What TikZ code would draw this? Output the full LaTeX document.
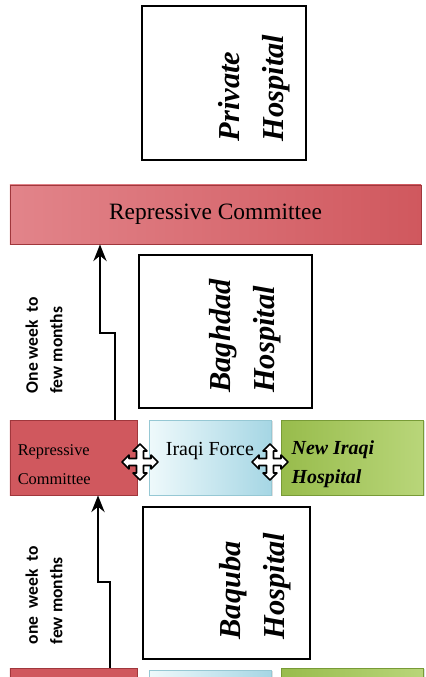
\documentclass[tikz,border=0pt]{standalone}
\usepackage{fontspec}
\setmainfont{Liberation Serif}
\newfontfamily\labelfont{Carlito}
\usetikzlibrary{arrows.meta, positioning, calc, shadows}
\definecolor{redlight}{RGB}{226,132,138}
\definecolor{reddark}{RGB}{208,88,94}
\definecolor{redmid}{RGB}{198,72,78}
\definecolor{redline}{RGB}{160,55,60}
\definecolor{bluelight}{RGB}{238,249,251}
\definecolor{bluedark}{RGB}{165,214,228}
\definecolor{blueline}{RGB}{150,200,212}
\definecolor{greenlight}{RGB}{185,214,122}
\definecolor{greendark}{RGB}{152,188,76}
\definecolor{greenline}{RGB}{120,155,55}
\tikzset{
    hospital/.style={
        rectangle,
        draw=black,
        line width=1.2pt,
        inner sep=0pt,
    },
    hosptext/.style={
        rotate=90,
        align=left,
        inner sep=0pt,
        font=\fontsize{26}{38}\selectfont\bfseries\itshape,
    },
    redbox/.style={
        rectangle,
        draw=redline,
        thick,
        left color=reddark,
        middle color=redmid,
        right color=reddark,
        drop shadow={opacity=0.25, shadow xshift=1pt, shadow yshift=-1pt},
        minimum height=2.25cm,
    },
    bluebox/.style={
        rectangle,
        draw=blueline,
        thick,
        left color=bluelight,
        right color=bluedark,
        drop shadow={opacity=0.25, shadow xshift=1pt, shadow yshift=-1pt},
        minimum width=3.66cm,
        minimum height=2.25cm,
    },
    greenbox/.style={
        rectangle,
        draw=greenline,
        thick,
        left color=greendark,
        right color=greenlight,
        drop shadow={opacity=0.25, shadow xshift=1pt, shadow yshift=-1pt},
        minimum width=4.26cm,
        minimum height=2.25cm,
    },
    boxtext/.style={
        anchor=west,
        align=left,
        inner sep=0pt,
    },
    timetext/.style={
        rotate=90,
        align=left,
        font=\labelfont\bfseries\fontsize{15}{21}\selectfont,
    },
    flow/.style={
        -{Stealth[length=5mm, width=4mm]},
        line width=1.4pt,
    },
    moveicon/.pic={
        \draw[fill=white, line width=1.3pt, line join=round]
          (3.5,3.5) -- (11,3.5) -- (11,7) -- (18,0) -- (11,-7) -- (11,-3.5) -- (3.5,-3.5)
          -- (3.5,-11) -- (7,-11) -- (0,-18) -- (-7,-11) -- (-3.5,-11) -- (-3.5,-3.5)
          -- (-11,-3.5) -- (-11,-7) -- (-18,0) -- (-11,7) -- (-11,3.5) -- (-3.5,3.5)
          -- (-3.5,11) -- (-7,11) -- (0,18) -- (7,11) -- (3.5,11) -- cycle;
    },
}

\begin{document}
\begin{tikzpicture}[x=0.03cm, y=-0.03cm]
    \useasboundingbox (0,0) rectangle (426,677);
    \clip (0,0) rectangle (426,677);

    % hospitals
    \node [hospital, minimum width=4.92cm, minimum height=4.62cm] (Private) at (224,83) {};
    \node [hosptext] (PrivateText) at (254,88) {Private\\Hospital};
    \node [hospital, minimum width=5.19cm, minimum height=4.59cm] (Baghdad) at (225.5,331.5) {};
    \node [hosptext] (BaghdadText) at (245,336) {Baghdad\\Hospital};
    \node [hospital, minimum width=5.01cm, minimum height=4.56cm] (Baquba) at (226.5,583) {};
    \node [hosptext] (BaqubaText) at (255,586) {Baquba\\Hospital};

    % committees and forces
    \node [redbox, minimum width=12.33cm, minimum height=1.77cm,
           left color=redlight, middle color=reddark, right color=reddark,
           font=\fontsize{20}{22}\selectfont] (TopRC) at (215.5,214.5) {Repressive Committee};

    \node [redbox, minimum width=3.81cm] (MidRC) at (73.5,457.5) {};
    \node [bluebox, right=0.36cm of MidRC] (MidIF) {};
    \node [greenbox, right=0.27cm of MidIF] (MidNIH) {};
    \node [boxtext, font=\fontsize{14}{25}\selectfont] (MidRCText)
          at ($(MidRC.west)+(8,7)$) {Repressive\\Committee};
    \node [font=\fontsize{17}{19}\selectfont, inner sep=0pt] (MidIFText)
          at ($(MidIF.center)+(-1,-6)$) {Iraqi Force};
    \node [boxtext, font=\fontsize{17}{25}\selectfont\bfseries\itshape] (MidNIHText)
          at ($(MidNIH.west)+(10,7)$) {New Iraqi\\Hospital};

    \node [redbox, minimum width=3.81cm] (BotRC) at (73.5,705.5) {};
    \node [bluebox, right=0.36cm of BotRC, yshift=-0.06cm] (BotIF) {};
    \node [greenbox, right=0.27cm of BotIF, yshift=0.06cm] (BotNIH) {};

    \pic at (140,462) {moveicon};
    \pic at (270,462) {moveicon};

    % promotions
    \coordinate (k1) at (115,333);
    \coordinate (k2) at (100,333);
    \draw [flow] (k1 |- MidRC.north) -- (k1) -- (k2) -- (k2 |- TopRC.south);
    \node [timetext] (Time1) at (44,345) {One week\ \ to\\few months};

    \coordinate (k3) at (110,582);
    \coordinate (k4) at (98,582);
    \draw [flow] (k3 |- BotRC.north) -- (k3) -- (k4) -- (k4 |- MidRC.south);
    \node [timetext] (Time2) at (44,595) {one\ \ week\ \ to\\few months};
\end{tikzpicture}
\end{document}
